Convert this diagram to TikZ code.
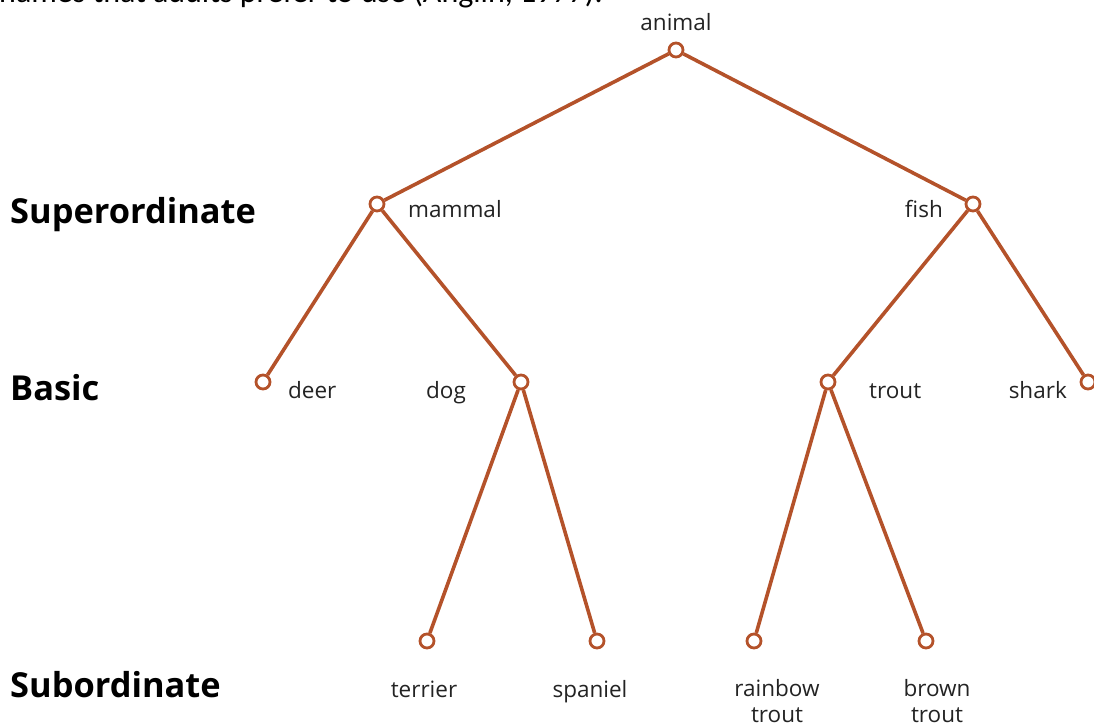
\documentclass[tikz,border=0pt]{standalone}
\usepackage{fontspec}
\setmainfont{Open Sans}
\newfontfamily\topfont{Carlito}
\definecolor{branch}{RGB}{180,82,42}
\definecolor{txt}{RGB}{35,35,35}
\begin{document}
\begin{tikzpicture}[x=1pt,y=-1pt,
  dot/.style={circle,draw=branch,fill=white,line width=2.8pt,minimum size=14pt,inner sep=0pt},
  edge/.style={draw=branch,line width=3.6pt},
  lbl/.style={inner sep=0pt,text=txt,font=\fontsize{22.5}{26}\selectfont},
  lvl/.style={inner sep=0pt,anchor=base west,text=black,font=\fontsize{34.4}{40}\selectfont\bfseries}]
\useasboundingbox (0,0) rectangle (1094,725);
\clip (0,0) rectangle (1094,725);
% cut-off caption line at top
\node[inner sep=0pt,anchor=base east,font=\topfont\fontsize{32}{36}\selectfont] (cap) at (603,3) {names that adults prefer to use (Anglin, 1977).};
% circles
\node[dot] (animal) at (676,50) {};
\node[dot] (mammal) at (377,204) {};
\node[dot] (fish) at (973,204) {};
\node[dot] (deer) at (263,382) {};
\node[dot] (dog) at (521,382) {};
\node[dot] (trout) at (828,382) {};
\node[dot] (shark) at (1088,382) {};
\node[dot] (terrier) at (427,641) {};
\node[dot] (spaniel) at (597,641) {};
\node[dot] (rainbow) at (754,641) {};
\node[dot] (brown) at (926,641) {};
% edges
\path[edge] (animal) -- (mammal);
\path[edge] (animal) -- (fish);
\path[edge] (mammal) -- (deer);
\path[edge] (mammal) -- (dog);
\path[edge] (fish) -- (trout);
\path[edge] (fish) -- (shark);
\path[edge] (dog) -- (terrier);
\path[edge] (dog) -- (spaniel);
\path[edge] (trout) -- (rainbow);
\path[edge] (trout) -- (brown);
% labels
\node[lbl,anchor=base] (lanimal) at (676,31) {animal};
\node[lbl,anchor=base west] (lmammal) at (408,217) {mammal};
\node[lbl,anchor=base east] (lfish) at (943,217) {fish};
\node[lbl,anchor=base west] (ldeer) at (288,398) {deer};
\node[lbl,anchor=base] (ldog) at (446,398) {dog};
\node[lbl,anchor=base west] (ltrout) at (869,398) {trout};
\node[lbl,anchor=base east] (lshark) at (1067,398) {shark};
\node[lbl,anchor=base] (lterrier) at (424,697) {terrier};
\node[lbl,anchor=base] (lspaniel) at (590,697) {spaniel};
\node[lbl,anchor=base,align=center] (lrainbow) at (777,722) {rainbow\\trout};
\node[lbl,anchor=base,align=center] (lbrown) at (937,722) {brown\\trout};
% level names
\node[lvl] (super) at (10,223) {Superordinate};
\node[lvl] (basic) at (10,400) {Basic};
\node[lvl] (sub) at (10,697) {Subordinate};
\end{tikzpicture}
\end{document}
